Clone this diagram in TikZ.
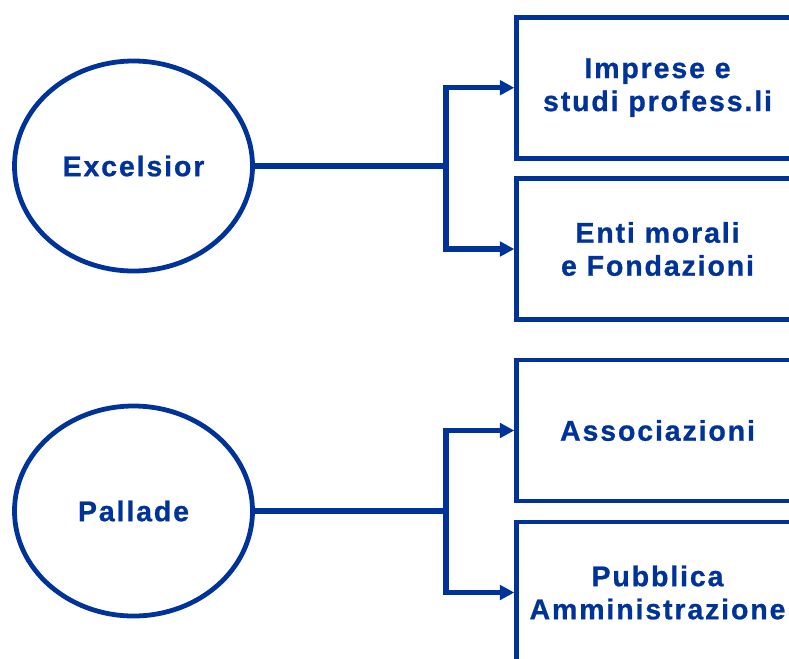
\documentclass[tikz,border=0pt]{standalone}
\usepackage{fontspec}
\setmainfont{Liberation Sans}[LetterSpace=6.5,BoldFeatures={FakeBold=0.8}]
\usepackage{xcolor}
\usepackage{tikz}
\usetikzlibrary{arrows.meta,positioning,calc,shapes.geometric}
\definecolor{fundblue}{HTML}{003399}
\tikzset{
  fundoval/.style={draw=fundblue,ellipse,line width=3.4pt,minimum width=5.95cm,minimum height=5.25cm,
    inner sep=0pt,font=\fontsize{20.3}{23.5}\selectfont\bfseries,text=fundblue},
  clientbox/.style={draw=fundblue,line width=3.4pt,minimum width=7.04cm,minimum height=3.525cm,
    inner sep=0pt,align=center,font=\fontsize{20.3}{23.5}\selectfont\bfseries,text=fundblue},
  branchline/.style={draw=fundblue,line width=3.6pt},
  diagramarrow/.style={branchline,-{Triangle[length=0.36cm,width=0.36cm]}}
}

\begin{document}
\begin{tikzpicture}[x=1cm,y=1cm]
  \useasboundingbox (0,0) rectangle (19.725,-16.45);
  \clip (0,0) rectangle (19.725,-16.45);

  % fondi
  \node[fundoval] (excelsior) at (3.3375,-4.15) {Excelsior};
  \node[fundoval] (pallade) at (3.3375,-12.775) {Pallade};

  % destinatari
  \node[clientbox] (imprese) at (16.4375,-2.1925) {Imprese e\\studi profess.li};
  \node[clientbox] (enti) at (16.4375,-6.225) {Enti morali\\e Fondazioni};
  \node[clientbox] (associazioni) at (16.4375,-10.7625) {Associazioni};
  \node[clientbox] (pubblica) at (16.4375,-14.8125) {Pubblica\\Amministrazione};

  \coordinate (forkA) at (11.15,-4.15);
  \coordinate (forkB) at (11.15,-12.775);

  \draw[branchline] (excelsior.east) -- (forkA);
  \draw[diagramarrow] (forkA) |- (imprese.west);
  \draw[diagramarrow] (forkA) |- (enti.west);

  \draw[branchline] (pallade.east) -- (forkB);
  \draw[diagramarrow] (forkB) |- (associazioni.west);
  \draw[diagramarrow] (forkB) |- (pubblica.west);
\end{tikzpicture}
\end{document}
